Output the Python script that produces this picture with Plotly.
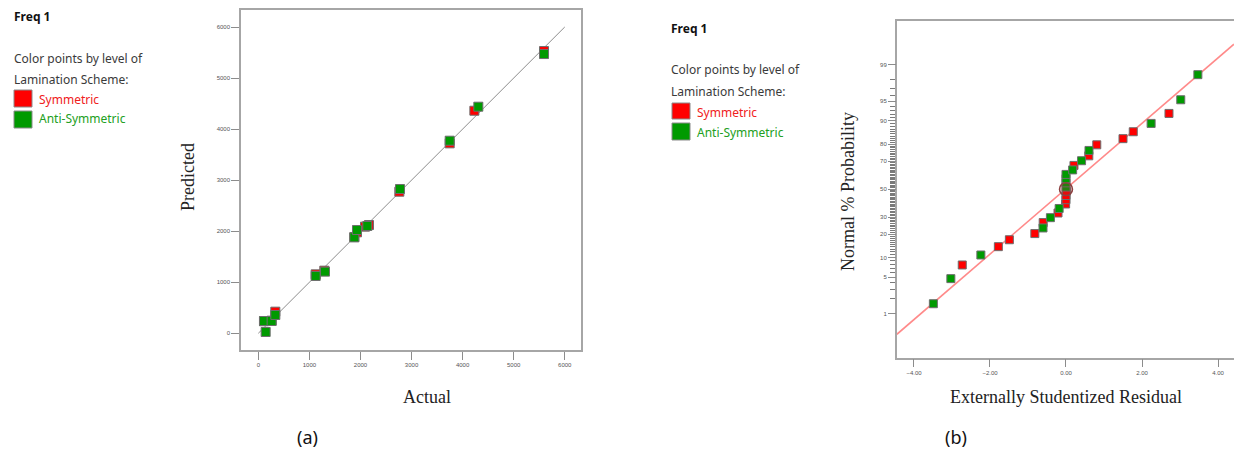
import plotly.graph_objects as go
from statistics import NormalDist

# ---------------- data ----------------
# (a) Predicted vs Actual
sym_actual = [111, 261, 333, 1123, 1292, 1880, 1932, 2089, 2167, 2761, 3747, 4230, 5594]
sym_pred = [236, 248, 424, 1155, 1227, 1885, 1978, 2089, 2121, 2774, 3721, 4360, 5529]
anti_actual = [111, 144, 261, 333, 1123, 1305, 1880, 1932, 2134, 2774, 3747, 4308, 5594]
anti_pred = [241, 26, 241, 359, 1123, 1208, 1880, 2023, 2102, 2826, 3773, 4439, 5470]
diag_x = [0, 6000]
diag_y = [0, 6000]
a_ticks = [0, 1000, 2000, 3000, 4000, 5000, 6000]

# (b) Normal probability plot of residuals
sym_resid = [-2.73, -1.78, -1.49, -0.82, -0.60, -0.21, -0.01, 0.0, 0.0, 0.01,
             0.21, 0.60, 0.81, 1.50, 1.77, 2.71]
sym_prob = [7.8, 14.1, 17.2, 20.3, 26.6, 32.8, 39.1, 42.2, 45.3, 48.4,
            67.2, 73.4, 79.7, 82.8, 85.9, 92.2]
anti_resid = [-3.49, -3.03, -2.24, -0.605, -0.41, -0.18, 0.0, 0.0, 0.0, 0.0,
              0.175, 0.41, 0.605, 2.24, 3.02, 3.47]
anti_prob = [1.6, 4.7, 10.9, 23.4, 29.7, 35.9, 51.6, 54.7, 57.8, 60.9,
             64.1, 70.3, 76.6, 89.1, 95.3, 98.4]
fit_resid = [-4.45, 4.42]
fit_prob = [0.33, 99.67]
mark_resid = [0.0]
mark_prob = [50.0]
b_prob_ticks = [1, 5, 10, 20, 30, 50, 70, 80, 90, 95, 99]
b_prob_minor = list(range(1, 100))
b_x_ticks = [-4, -2, 0, 2, 4]

nd = NormalDist()
z = lambda ps: [nd.inv_cdf(p / 100.0) for p in ps]

RED = "#ff0000"
GREEN = "#009a00"
FRAME = "#a6a6a6"
W, H = 1234, 454


def px(x):
    return x / W


def py(y):
    return 1 - y / H


fig = go.Figure()

mk = dict(symbol="square", size=9, line=dict(color="#6e6e6e", width=1))
# (a)
fig.add_trace(go.Scatter(x=diag_x, y=diag_y, mode="lines", line=dict(color="#8c8c8c", width=1),
                         xaxis="x", yaxis="y", hoverinfo="skip"))
fig.add_trace(go.Scatter(x=sym_actual, y=sym_pred, mode="markers", marker=dict(color=RED, **mk),
                         xaxis="x", yaxis="y"))
fig.add_trace(go.Scatter(x=anti_actual, y=anti_pred, mode="markers", marker=dict(color=GREEN, **mk),
                         xaxis="x", yaxis="y"))
# (b)
mk2 = dict(symbol="square", size=8, line=dict(color="#6e6e6e", width=1))
fig.add_trace(go.Scatter(x=fit_resid, y=z(fit_prob), mode="lines", line=dict(color="#ff8a8a", width=1.6),
                         xaxis="x2", yaxis="y2", hoverinfo="skip"))
fig.add_trace(go.Scatter(x=sym_resid, y=z(sym_prob), mode="markers", marker=dict(color=RED, **mk2),
                         xaxis="x2", yaxis="y2"))
fig.add_trace(go.Scatter(x=anti_resid, y=z(anti_prob), mode="markers", marker=dict(color=GREEN, **mk2),
                         xaxis="x2", yaxis="y2"))
fig.add_trace(go.Scatter(x=mark_resid, y=z(mark_prob), mode="markers",
                         marker=dict(symbol="circle", size=13, color="rgba(150,50,50,0.25)",
                                     line=dict(color="#8b4040", width=1.5)),
                         xaxis="x2", yaxis="y2"))
# invisible trace to hold the major-tick overlay axis
fig.add_trace(go.Scatter(x=[0], y=[0], mode="markers", marker=dict(opacity=0), xaxis="x2", yaxis="y3",
                         showlegend=False, hoverinfo="skip"))

tickfont = dict(family="Liberation Sans", size=6, color="#555555")
common = dict(showgrid=False, zeroline=False, showline=True, linecolor=FRAME, linewidth=1.5,
              ticks="outside", ticklen=8, tickcolor="#8c8c8c", tickwidth=1, tickfont=tickfont)

b_dom = [py(357.7), py(20.7)]
b_rng = [-3.155, 3.155]
minor_common = {k: v for k, v in common.items() if k not in ("ticklen", "tickcolor")}

fig.update_layout(
    width=W, height=H, margin=dict(l=0, r=0, t=0, b=0),
    paper_bgcolor="white", plot_bgcolor="white", showlegend=False,
    xaxis=dict(domain=[px(241), px(581)], range=[-339, 6318], tickvals=a_ticks, mirror=True,
               anchor="y", **common),
    yaxis=dict(domain=[py(350), py(10)], range=[-327, 6333], tickvals=a_ticks, mirror=True,
               anchor="x", **common),
    xaxis2=dict(domain=[px(897), 1.0], range=[-4.447, 4.421], tickvals=b_x_ticks, tickformat=".2f",
                mirror=True, anchor="y2", **common),
    # minor ticks (every percent) on the main probability axis
    yaxis2=dict(domain=b_dom, range=b_rng, tickmode="array", tickvals=z(b_prob_minor),
                ticktext=[""] * len(b_prob_minor), mirror=False, anchor="x2", ticklen=5,
                tickcolor="#7a7a7a", **minor_common),
    # major ticks + labels on an overlay axis
    yaxis3=dict(domain=b_dom, range=b_rng, overlaying="y2", anchor="x2", side="left",
                tickmode="array", tickvals=z(b_prob_ticks), ticktext=[str(v) for v in b_prob_ticks],
                ticks="outside", ticklen=8, tickcolor="#8c8c8c", tickwidth=1, tickfont=tickfont,
                showline=False, showgrid=False, zeroline=False),
)

annos = []
sans = "Noto Sans"


def txt(x, y, s, size=12, color="#3a3a3a", bold=False, family=sans, angle=0, xanchor="left"):
    annos.append(dict(x=px(x), y=py(y), xref="paper", yref="paper", text=("<b>%s</b>" % s) if bold else s,
                      showarrow=False, xanchor=xanchor, yanchor="middle", textangle=angle,
                      font=dict(family=family, size=size, color=color)))


for (lx, ys, sq) in [(12, (17, 58, 79, 99, 119), (14, 90, 107, 111, 128)),
                     (669, (28, 70, 91, 112, 132), (672, 103, 119, 123, 140))]:
    txt(lx, ys[0], "Freq 1", size=12, color="#111111", bold=True)
    txt(lx, ys[1], "Color points by level of", size=12)
    txt(lx, ys[2], "Lamination Scheme:", size=12)
    txt(sq[0] + 23, ys[3], "Symmetric", size=12, color="#f02020")
    txt(sq[0] + 23, ys[4], "Anti-Symmetric", size=12, color="#22a022")
    fig.add_shape(type="rect", xref="paper", yref="paper", x0=px(sq[0]), x1=px(sq[0] + 18),
                  y0=py(sq[2]), y1=py(sq[1]), fillcolor=RED, line=dict(color="#8a8a8a", width=1))
    fig.add_shape(type="rect", xref="paper", yref="paper", x0=px(sq[0]), x1=px(sq[0] + 18),
                  y0=py(sq[4]), y1=py(sq[3]), fillcolor=GREEN, line=dict(color="#8a8a8a", width=1))

serif = "Liberation Serif"
txt(188, 177, "Predicted", size=18, color="#222222", family=serif, angle=-90, xanchor="center")
txt(427, 397, "Actual", size=18, color="#222222", family=serif, xanchor="center")
txt(848, 192, "Normal % Probability", size=18, color="#222222", family=serif, angle=-90, xanchor="center")
txt(1066, 397, "Externally Studentized Residual", size=18, color="#222222", family=serif, xanchor="center")
txt(307, 437, "(a)", size=18, color="#111111", xanchor="center")
txt(956, 437, "(b)", size=18, color="#111111", xanchor="center")

fig.update_layout(annotations=annos)
fig.write_html("out.html")
